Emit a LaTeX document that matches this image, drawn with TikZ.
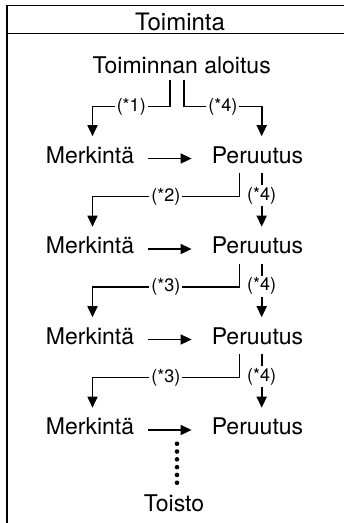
\documentclass[tikz,border=0pt]{standalone}
\usepackage{fontspec}
\setmainfont{TeX Gyre Heros}
\usetikzlibrary{arrows.meta}

\begin{document}
\begin{tikzpicture}[x=1pt, y=1pt, >={Triangle[length=11pt, width=10pt]},
		txt/.style={font=\fontsize{23}{27}\selectfont, inner sep=0pt, outer ysep=10pt, anchor=base},
		note/.style={font=\fontsize{18}{21}\selectfont, fill=white, inner sep=2pt},
		conn/.style={->, line width=1.6pt},
		frame/.style={line width=1.5pt}]
		\useasboundingbox (0,0) rectangle (344,-523);
		
		\draw[frame] (344,-5.5) -| (7,-523);
		\draw[frame] (7,-33.5) -- (344,-33.5);
		\node[txt, font=\fontsize{24}{28}\selectfont] (title) at (180,-30) {Toiminta};
		
		\node[txt, outer ysep=7pt] (start) at (181.7,-73) {Toiminnan aloitus};
		\foreach \i/\yb in {1/163, 2/253.5, 3/344, 4/434.5} {
			\node[txt] (m\i) at (90,-\yb) {Merkintä};
			\node[txt] (p\i) at (257.5,-\yb) {Peruutus};
			\draw[conn] ([xshift=14pt, yshift=4.5pt]m\i.base east) -- ([xshift=-20pt, yshift=4.5pt]p\i.base west);
		}
		\node[txt] (toisto) at (174,-511) {Toisto};
		
		\draw[conn] ([xshift=-11.7pt]start.south) -- ++(0,-26) -| node[note, pos=0.25] {(*1)} ([xshift=2.5pt]m1.north);
		\draw[conn] ([xshift=2.3pt]start.south) -- ++(0,-26) -| node[note, pos=0.25] {(*4)} ([xshift=4.2pt]p1.north);
		
		\foreach \i/\j/\n in {1/2/2, 2/3/3, 3/4/3} {
			\draw[conn] ([xshift=-18.2pt]p\i.south) -- ++(0,-23) -| node[note, pos=0.25] {(*\n)} ([xshift=2.5pt]m\j.north);
			\draw[conn] ([xshift=4.2pt]p\i.south) -- node[note, pos=0.42] {(*4)} ([xshift=4.2pt]p\j.north);
		}
		
		\foreach \k in {0,...,5}
			\fill ([xshift=3pt, yshift=1.5pt+\k*7.8pt]toisto.north) circle (2.3pt);
	\end{tikzpicture}
\end{document}
